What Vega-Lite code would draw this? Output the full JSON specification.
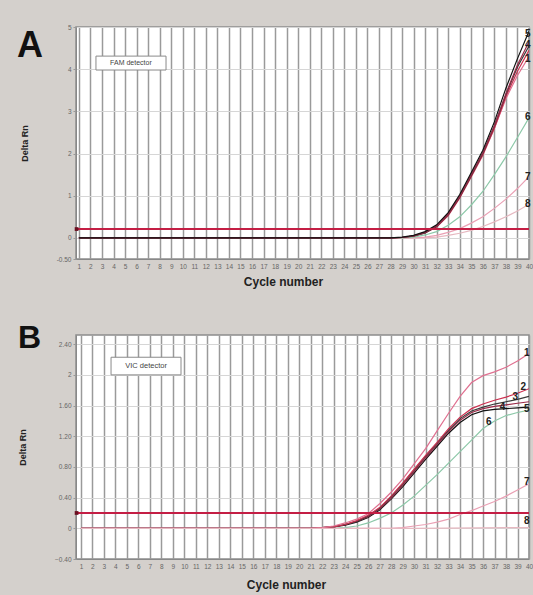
{
  "$schema": "https://vega.github.io/schema/vega-lite/v6.json",
  "background": "#d4d0cc",
  "padding": {"left": 16, "top": 23, "right": 0, "bottom": 3},
  "spacing": 32,
  "datasets": {
    "famA": [
      {"well":"8","cycle":1,"rn":0},{"well":"8","cycle":10,"rn":0},{"well":"8","cycle":20,"rn":0},{"well":"8","cycle":31,"rn":0},{"well":"8","cycle":32,"rn":0.02},{"well":"8","cycle":33,"rn":0.06},{"well":"8","cycle":34,"rn":0.11},{"well":"8","cycle":35,"rn":0.18},{"well":"8","cycle":36,"rn":0.27},{"well":"8","cycle":37,"rn":0.38},{"well":"8","cycle":38,"rn":0.5},{"well":"8","cycle":39,"rn":0.64},{"well":"8","cycle":40,"rn":0.8},
      {"well":"7","cycle":1,"rn":0},{"well":"7","cycle":10,"rn":0},{"well":"7","cycle":20,"rn":0},{"well":"7","cycle":30,"rn":0},{"well":"7","cycle":31,"rn":0.02},{"well":"7","cycle":32,"rn":0.06},{"well":"7","cycle":33,"rn":0.13},{"well":"7","cycle":34,"rn":0.22},{"well":"7","cycle":35,"rn":0.35},{"well":"7","cycle":36,"rn":0.5},{"well":"7","cycle":37,"rn":0.7},{"well":"7","cycle":38,"rn":0.92},{"well":"7","cycle":39,"rn":1.17},{"well":"7","cycle":40,"rn":1.45},
      {"well":"6","cycle":1,"rn":0},{"well":"6","cycle":10,"rn":0},{"well":"6","cycle":20,"rn":0},{"well":"6","cycle":29,"rn":0},{"well":"6","cycle":30,"rn":0.02},{"well":"6","cycle":31,"rn":0.07},{"well":"6","cycle":32,"rn":0.15},{"well":"6","cycle":33,"rn":0.3},{"well":"6","cycle":34,"rn":0.5},{"well":"6","cycle":35,"rn":0.78},{"well":"6","cycle":36,"rn":1.1},{"well":"6","cycle":37,"rn":1.5},{"well":"6","cycle":38,"rn":1.92},{"well":"6","cycle":39,"rn":2.38},{"well":"6","cycle":40,"rn":2.85},
      {"well":"1","cycle":1,"rn":0},{"well":"1","cycle":10,"rn":0},{"well":"1","cycle":20,"rn":0},{"well":"1","cycle":28,"rn":0},{"well":"1","cycle":29,"rn":0.01},{"well":"1","cycle":30,"rn":0.05},{"well":"1","cycle":31,"rn":0.14},{"well":"1","cycle":32,"rn":0.29},{"well":"1","cycle":33,"rn":0.58},{"well":"1","cycle":34,"rn":1.0},{"well":"1","cycle":35,"rn":1.5},{"well":"1","cycle":36,"rn":2.0},{"well":"1","cycle":37,"rn":2.6},{"well":"1","cycle":38,"rn":3.3},{"well":"1","cycle":39,"rn":3.85},{"well":"1","cycle":40,"rn":4.3},
      {"well":"2","cycle":1,"rn":0},{"well":"2","cycle":10,"rn":0},{"well":"2","cycle":20,"rn":0},{"well":"2","cycle":28,"rn":0},{"well":"2","cycle":29,"rn":0.01},{"well":"2","cycle":30,"rn":0.05},{"well":"2","cycle":31,"rn":0.12},{"well":"2","cycle":32,"rn":0.26},{"well":"2","cycle":33,"rn":0.53},{"well":"2","cycle":34,"rn":0.95},{"well":"2","cycle":35,"rn":1.45},{"well":"2","cycle":36,"rn":1.96},{"well":"2","cycle":37,"rn":2.6},{"well":"2","cycle":38,"rn":3.35},{"well":"2","cycle":39,"rn":3.95},{"well":"2","cycle":40,"rn":4.45},
      {"well":"3","cycle":1,"rn":0},{"well":"3","cycle":10,"rn":0},{"well":"3","cycle":20,"rn":0},{"well":"3","cycle":28,"rn":0},{"well":"3","cycle":29,"rn":0.01},{"well":"3","cycle":30,"rn":0.04},{"well":"3","cycle":31,"rn":0.12},{"well":"3","cycle":32,"rn":0.27},{"well":"3","cycle":33,"rn":0.55},{"well":"3","cycle":34,"rn":0.97},{"well":"3","cycle":35,"rn":1.48},{"well":"3","cycle":36,"rn":2.0},{"well":"3","cycle":37,"rn":2.65},{"well":"3","cycle":38,"rn":3.4},{"well":"3","cycle":39,"rn":4.05},{"well":"3","cycle":40,"rn":4.55},
      {"well":"4","cycle":1,"rn":0},{"well":"4","cycle":10,"rn":0},{"well":"4","cycle":20,"rn":0},{"well":"4","cycle":28,"rn":0},{"well":"4","cycle":29,"rn":0.01},{"well":"4","cycle":30,"rn":0.05},{"well":"4","cycle":31,"rn":0.13},{"well":"4","cycle":32,"rn":0.28},{"well":"4","cycle":33,"rn":0.56},{"well":"4","cycle":34,"rn":0.98},{"well":"4","cycle":35,"rn":1.5},{"well":"4","cycle":36,"rn":2.02},{"well":"4","cycle":37,"rn":2.66},{"well":"4","cycle":38,"rn":3.42},{"well":"4","cycle":39,"rn":4.1},{"well":"4","cycle":40,"rn":4.65},
      {"well":"5","cycle":1,"rn":0},{"well":"5","cycle":10,"rn":0},{"well":"5","cycle":20,"rn":0},{"well":"5","cycle":28,"rn":0},{"well":"5","cycle":29,"rn":0.02},{"well":"5","cycle":30,"rn":0.06},{"well":"5","cycle":31,"rn":0.15},{"well":"5","cycle":32,"rn":0.31},{"well":"5","cycle":33,"rn":0.6},{"well":"5","cycle":34,"rn":1.03},{"well":"5","cycle":35,"rn":1.55},{"well":"5","cycle":36,"rn":2.08},{"well":"5","cycle":37,"rn":2.75},{"well":"5","cycle":38,"rn":3.55},{"well":"5","cycle":39,"rn":4.25},{"well":"5","cycle":40,"rn":4.9}
    ],
    "vicB": [
      {"well":"7","cycle":1,"rn":0},{"well":"7","cycle":10,"rn":0},{"well":"7","cycle":20,"rn":0},{"well":"7","cycle":28,"rn":0},{"well":"7","cycle":29,"rn":0.01},{"well":"7","cycle":30,"rn":0.03},{"well":"7","cycle":31,"rn":0.05},{"well":"7","cycle":32,"rn":0.08},{"well":"7","cycle":33,"rn":0.12},{"well":"7","cycle":34,"rn":0.18},{"well":"7","cycle":35,"rn":0.23},{"well":"7","cycle":36,"rn":0.29},{"well":"7","cycle":37,"rn":0.35},{"well":"7","cycle":38,"rn":0.42},{"well":"7","cycle":39,"rn":0.5},{"well":"7","cycle":40,"rn":0.58},
      {"well":"6","cycle":1,"rn":0},{"well":"6","cycle":10,"rn":0},{"well":"6","cycle":20,"rn":0},{"well":"6","cycle":23,"rn":0},{"well":"6","cycle":24,"rn":0.01},{"well":"6","cycle":25,"rn":0.03},{"well":"6","cycle":26,"rn":0.07},{"well":"6","cycle":27,"rn":0.13},{"well":"6","cycle":28,"rn":0.2},{"well":"6","cycle":29,"rn":0.3},{"well":"6","cycle":30,"rn":0.42},{"well":"6","cycle":31,"rn":0.56},{"well":"6","cycle":32,"rn":0.7},{"well":"6","cycle":33,"rn":0.85},{"well":"6","cycle":34,"rn":1.0},{"well":"6","cycle":35,"rn":1.15},{"well":"6","cycle":36,"rn":1.3},{"well":"6","cycle":37,"rn":1.4},{"well":"6","cycle":38,"rn":1.47},{"well":"6","cycle":39,"rn":1.51},{"well":"6","cycle":40,"rn":1.54},
      {"well":"5","cycle":1,"rn":0},{"well":"5","cycle":10,"rn":0},{"well":"5","cycle":20,"rn":0},{"well":"5","cycle":21,"rn":0},{"well":"5","cycle":22,"rn":0.01},{"well":"5","cycle":23,"rn":0.02},{"well":"5","cycle":24,"rn":0.04},{"well":"5","cycle":25,"rn":0.08},{"well":"5","cycle":26,"rn":0.14},{"well":"5","cycle":27,"rn":0.24},{"well":"5","cycle":28,"rn":0.38},{"well":"5","cycle":29,"rn":0.54},{"well":"5","cycle":30,"rn":0.72},{"well":"5","cycle":31,"rn":0.9},{"well":"5","cycle":32,"rn":1.07},{"well":"5","cycle":33,"rn":1.24},{"well":"5","cycle":34,"rn":1.38},{"well":"5","cycle":35,"rn":1.48},{"well":"5","cycle":36,"rn":1.53},{"well":"5","cycle":37,"rn":1.55},{"well":"5","cycle":38,"rn":1.56},{"well":"5","cycle":39,"rn":1.57},{"well":"5","cycle":40,"rn":1.58},
      {"well":"4","cycle":1,"rn":0},{"well":"4","cycle":10,"rn":0},{"well":"4","cycle":20,"rn":0},{"well":"4","cycle":21,"rn":0},{"well":"4","cycle":22,"rn":0.01},{"well":"4","cycle":23,"rn":0.02},{"well":"4","cycle":24,"rn":0.05},{"well":"4","cycle":25,"rn":0.09},{"well":"4","cycle":26,"rn":0.15},{"well":"4","cycle":27,"rn":0.25},{"well":"4","cycle":28,"rn":0.39},{"well":"4","cycle":29,"rn":0.56},{"well":"4","cycle":30,"rn":0.74},{"well":"4","cycle":31,"rn":0.92},{"well":"4","cycle":32,"rn":1.09},{"well":"4","cycle":33,"rn":1.26},{"well":"4","cycle":34,"rn":1.41},{"well":"4","cycle":35,"rn":1.51},{"well":"4","cycle":36,"rn":1.56},{"well":"4","cycle":37,"rn":1.59},{"well":"4","cycle":38,"rn":1.61},{"well":"4","cycle":39,"rn":1.63},{"well":"4","cycle":40,"rn":1.65},
      {"well":"3","cycle":1,"rn":0},{"well":"3","cycle":10,"rn":0},{"well":"3","cycle":20,"rn":0},{"well":"3","cycle":21,"rn":0},{"well":"3","cycle":22,"rn":0.01},{"well":"3","cycle":23,"rn":0.02},{"well":"3","cycle":24,"rn":0.05},{"well":"3","cycle":25,"rn":0.09},{"well":"3","cycle":26,"rn":0.16},{"well":"3","cycle":27,"rn":0.26},{"well":"3","cycle":28,"rn":0.41},{"well":"3","cycle":29,"rn":0.58},{"well":"3","cycle":30,"rn":0.76},{"well":"3","cycle":31,"rn":0.94},{"well":"3","cycle":32,"rn":1.11},{"well":"3","cycle":33,"rn":1.28},{"well":"3","cycle":34,"rn":1.43},{"well":"3","cycle":35,"rn":1.53},{"well":"3","cycle":36,"rn":1.58},{"well":"3","cycle":37,"rn":1.62},{"well":"3","cycle":38,"rn":1.65},{"well":"3","cycle":39,"rn":1.68},{"well":"3","cycle":40,"rn":1.72},
      {"well":"2","cycle":1,"rn":0},{"well":"2","cycle":10,"rn":0},{"well":"2","cycle":20,"rn":0},{"well":"2","cycle":21,"rn":0},{"well":"2","cycle":22,"rn":0.01},{"well":"2","cycle":23,"rn":0.02},{"well":"2","cycle":24,"rn":0.05},{"well":"2","cycle":25,"rn":0.1},{"well":"2","cycle":26,"rn":0.17},{"well":"2","cycle":27,"rn":0.27},{"well":"2","cycle":28,"rn":0.42},{"well":"2","cycle":29,"rn":0.59},{"well":"2","cycle":30,"rn":0.77},{"well":"2","cycle":31,"rn":0.95},{"well":"2","cycle":32,"rn":1.12},{"well":"2","cycle":33,"rn":1.3},{"well":"2","cycle":34,"rn":1.45},{"well":"2","cycle":35,"rn":1.56},{"well":"2","cycle":36,"rn":1.62},{"well":"2","cycle":37,"rn":1.67},{"well":"2","cycle":38,"rn":1.71},{"well":"2","cycle":39,"rn":1.76},{"well":"2","cycle":40,"rn":1.82},
      {"well":"1","cycle":1,"rn":0},{"well":"1","cycle":10,"rn":0},{"well":"1","cycle":20,"rn":0},{"well":"1","cycle":21,"rn":0},{"well":"1","cycle":22,"rn":0.01},{"well":"1","cycle":23,"rn":0.03},{"well":"1","cycle":24,"rn":0.07},{"well":"1","cycle":25,"rn":0.12},{"well":"1","cycle":26,"rn":0.19},{"well":"1","cycle":27,"rn":0.32},{"well":"1","cycle":28,"rn":0.47},{"well":"1","cycle":29,"rn":0.64},{"well":"1","cycle":30,"rn":0.84},{"well":"1","cycle":31,"rn":1.04},{"well":"1","cycle":32,"rn":1.27},{"well":"1","cycle":33,"rn":1.5},{"well":"1","cycle":34,"rn":1.72},{"well":"1","cycle":35,"rn":1.9},{"well":"1","cycle":36,"rn":1.99},{"well":"1","cycle":37,"rn":2.04},{"well":"1","cycle":38,"rn":2.1},{"well":"1","cycle":39,"rn":2.18},{"well":"1","cycle":40,"rn":2.28},
      {"well":"8","cycle":1,"rn":0},{"well":"8","cycle":10,"rn":0},{"well":"8","cycle":20,"rn":0},{"well":"8","cycle":30,"rn":0},{"well":"8","cycle":40,"rn":0.01}
    ],
    "labA": [
      {"well":"5","cycle":39.9,"rn":4.83},{"well":"4","cycle":39.9,"rn":4.57},{"well":"1","cycle":39.9,"rn":4.24},
      {"well":"6","cycle":39.9,"rn":2.87},{"well":"7","cycle":39.9,"rn":1.45},{"well":"8","cycle":39.9,"rn":0.8}
    ],
    "labB": [
      {"well":"1","cycle":39.8,"rn":2.29},{"well":"2","cycle":39.5,"rn":1.84},{"well":"3","cycle":38.8,"rn":1.71},
      {"well":"4","cycle":37.7,"rn":1.58},{"well":"5","cycle":39.8,"rn":1.55},{"well":"6","cycle":36.5,"rn":1.38},
      {"well":"7","cycle":39.8,"rn":0.61},{"well":"8","cycle":39.8,"rn":0.1}
    ]
  },
  "vconcat": [
    {
      "width": 453,
      "height": 232,
      "layer": [
        {
          "data": {"name": "famA"},
          "mark": {"type": "line", "strokeWidth": 1.2, "clip": true},
          "encoding": {
            "x": {"field": "cycle", "type": "quantitative",
              "scale": {"domain": [0.75, 40], "nice": false, "zero": false},
              "axis": {"values": [1,2,3,4,5,6,7,8,9,10,11,12,13,14,15,16,17,18,19,20,21,22,23,24,25,26,27,28,29,30,31,32,33,34,35,36,37,38,39,40],
                "tickCount": 40,
                "title": "Cycle number", "titleFontSize": 12, "titlePadding": 7, "titleX": 207,
                "grid": true, "gridColor": "#9a9a9a", "gridWidth": 1.5, "ticks": false,
                "labelPadding": 4, "labelOverlap": false, "labelFlush": false}},
            "y": {"field": "rn", "type": "quantitative",
              "scale": {"domain": [-0.5, 5], "nice": false, "zero": false},
              "axis": {"values": [-0.5, 0, 1, 2, 3, 4, 5], "tickCount": 10,
                "labelExpr": "datum.value == -0.5 ? '-0.50' : format(datum.value, 'd')",
                "title": "Delta Rn", "titleFontSize": 9, "titlePadding": 27,
                "grid": true, "gridColor": "#d6d6d6", "tickSize": 3, "labelOverlap": false}},
            "color": {"field": "well", "type": "nominal", "legend": null,
              "scale": {"domain": ["1","2","3","4","5","6","7","8"],
                "range": ["#e07090","#cc2f4f","#3a3a3a","#9a2a48","#111111","#8cc8a8","#eaa0b4","#e6b8c0"]}}
          }
        },
        {
          "data": {"values": [{}]},
          "mark": {"type": "rule", "color": "#c41e44", "strokeWidth": 2},
          "encoding": {"y": {"datum": 0.21}}
        },
        {
          "data": {"values": [{}]},
          "mark": {"type": "square", "size": 14, "color": "#6a0f20", "opacity": 1},
          "encoding": {"x": {"datum": 0.8}, "y": {"datum": 0.21}}
        },
        {
          "data": {"values": [{}]},
          "mark": {"type": "rect", "fill": "white", "stroke": "#8a8a8a", "strokeWidth": 1},
          "encoding": {"x": {"datum": 2.48}, "x2": {"datum": 8.55}, "y": {"datum": 4.31}, "y2": {"datum": 3.98}}
        },
        {
          "data": {"values": [{}]},
          "mark": {"type": "text", "text": "FAM detector", "fontSize": 7, "color": "#444", "align": "center", "baseline": "middle"},
          "encoding": {"x": {"datum": 5.51}, "y": {"datum": 4.145}}
        },
        {
          "data": {"values": [{}]},
          "mark": {"type": "text", "text": "A", "fontSize": 36, "fontWeight": "bold", "color": "#111", "align": "left", "baseline": "alphabetic"},
          "encoding": {"x": {"datum": -4.36}, "y": {"datum": 4.29}}
        },
        {
          "data": {"name": "labA"},
          "mark": {"type": "text", "fontSize": 10, "fontWeight": "bold", "color": "#222", "align": "center", "baseline": "middle"},
          "encoding": {
            "x": {"field": "cycle", "type": "quantitative"},
            "y": {"field": "rn", "type": "quantitative"},
            "text": {"field": "well"}
          }
        }
      ]
    },
    {
      "width": 453,
      "height": 224,
      "layer": [
        {
          "data": {"name": "vicB"},
          "mark": {"type": "line", "strokeWidth": 1.2, "clip": true},
          "encoding": {
            "x": {"field": "cycle", "type": "quantitative",
              "scale": {"domain": [0.57, 40], "nice": false, "zero": false},
              "axis": {"values": [1,2,3,4,5,6,7,8,9,10,11,12,13,14,15,16,17,18,19,20,21,22,23,24,25,26,27,28,29,30,31,32,33,34,35,36,37,38,39,40],
                "tickCount": 40,
                "title": "Cycle number", "titleFontSize": 12, "titlePadding": 10, "titleX": 210,
                "grid": true, "gridColor": "#9a9a9a", "gridWidth": 1.5, "ticks": false,
                "labelPadding": 4, "labelOverlap": false, "labelFlush": false}},
            "y": {"field": "rn", "type": "quantitative",
              "scale": {"domain": [-0.4, 2.52], "nice": false, "zero": false},
              "axis": {"values": [-0.4, 0, 0.4, 0.8, 1.2, 1.6, 2, 2.4], "tickCount": 10,
                "labelExpr": "datum.value == 0 || datum.value == 2 ? format(datum.value, 'd') : format(datum.value, '.2f')",
                "title": "Delta Rn", "titleFontSize": 9, "titlePadding": 27,
                "grid": true, "gridColor": "#d6d6d6", "tickSize": 3, "labelOverlap": false}},
            "color": {"field": "well", "type": "nominal", "legend": null,
              "scale": {"domain": ["1","2","3","4","5","6","7","8"],
                "range": ["#ec8fab","#6a5a7a","#333333","#8c3a5a","#a8a860","#c8cf6e","#d7758d","#96cc96"]}}
          }
        },
        {
          "data": {"values": [{}]},
          "mark": {"type": "rule", "color": "#c41e44", "strokeWidth": 2},
          "encoding": {"y": {"datum": 0.2}}
        },
        {
          "data": {"values": [{}]},
          "mark": {"type": "square", "size": 14, "color": "#6a0f20", "opacity": 1},
          "encoding": {"x": {"datum": 0.62}, "y": {"datum": 0.2}}
        },
        {
          "data": {"values": [{}]},
          "mark": {"type": "rect", "fill": "white", "stroke": "#8a8a8a", "strokeWidth": 1},
          "encoding": {"x": {"datum": 3.62}, "x2": {"datum": 9.71}, "y": {"datum": 2.23}, "y2": {"datum": 2.0}}
        },
        {
          "data": {"values": [{}]},
          "mark": {"type": "text", "text": "VIC detector", "fontSize": 7.5, "color": "#444", "align": "center", "baseline": "middle"},
          "encoding": {"x": {"datum": 6.67}, "y": {"datum": 2.115}}
        },
        {
          "data": {"values": [{}]},
          "mark": {"type": "text", "text": "B", "fontSize": 32, "fontWeight": "bold", "color": "#111", "align": "left", "baseline": "alphabetic"},
          "encoding": {"x": {"datum": -4.48}, "y": {"datum": 2.35}}
        },
        {
          "data": {"name": "labB"},
          "mark": {"type": "text", "fontSize": 10, "fontWeight": "bold", "color": "#222", "align": "center", "baseline": "middle"},
          "encoding": {
            "x": {"field": "cycle", "type": "quantitative"},
            "y": {"field": "rn", "type": "quantitative"},
            "text": {"field": "well"}
          }
        }
      ]
    }
  ],
  "config": {
    "view": {"fill": "white", "stroke": "#8c8c8c", "strokeWidth": 1.5},
    "axis": {"labelFont": "Liberation Sans", "titleFont": "Liberation Sans", "labelFontSize": 6.5, "labelColor": "#666",
      "titleFontWeight": "bold", "titleColor": "#222", "domainColor": "#888", "tickColor": "#999"},
    "text": {"font": "Liberation Sans"}
  }
}
